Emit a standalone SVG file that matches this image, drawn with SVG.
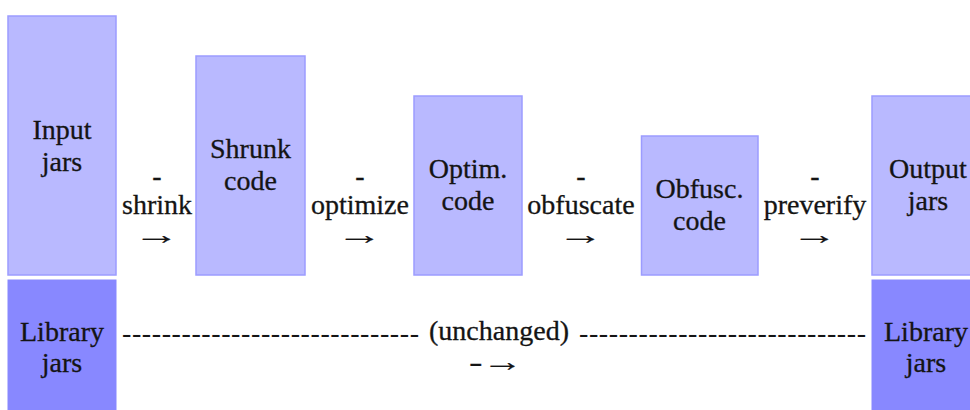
<svg xmlns="http://www.w3.org/2000/svg" width="970" height="410" viewBox="0 0 970 410">
<style>
  text { font-family: 'Liberation Serif', 'Times New Roman', serif; font-size: 28px; fill: #141414; stroke: #141414; stroke-width: 0.3; text-anchor: middle; }
  .box { fill: #b9b9ff; stroke: #9c9cff; stroke-width: 1.5; }
  .lib { fill: #8888ff; stroke: #8888ff; stroke-width: 1; }
  .dash { text-anchor: start; stroke-width: 0; }
  .arrow { stroke-width: 0.2; }
</style>
<rect width="970" height="410" fill="#ffffff"/>
<g id="input-jars">
  <rect class="box" x="8" y="16" width="108" height="259"/>
  <text x="62" y="139">Input</text>
  <text x="62" y="171">jars</text>
</g>
<g id="library-jars-in">
  <rect class="lib" x="8" y="280" width="108" height="135"/>
  <text x="62" y="341">Library</text>
  <text x="62" y="372">jars</text>
</g>
<g id="shrunk-code">
  <rect class="box" x="196" y="56" width="109" height="219"/>
  <text x="250.5" y="158">Shrunk</text>
  <text x="250.5" y="190">code</text>
</g>
<g id="optim-code">
  <rect class="box" x="414" y="96" width="108" height="179"/>
  <text x="468" y="178">Optim.</text>
  <text x="468" y="210">code</text>
</g>
<g id="obfusc-code">
  <rect class="box" x="641.5" y="136" width="116.5" height="139"/>
  <text x="699.5" y="198">Obfusc.</text>
  <text x="699.5" y="230">code</text>
</g>
<g id="output-jars">
  <rect class="box" x="872" y="96" width="120" height="179"/>
  <text x="928" y="178">Output</text>
  <text x="928" y="210">jars</text>
</g>
<g id="library-jars-out">
  <rect class="lib" x="872" y="280" width="120" height="135"/>
  <text x="926" y="341">Library</text>
  <text x="926" y="372">jars</text>
</g>
<g id="connectors">
  <g id="shrink">
    <text x="157" y="185">-</text>
    <text x="157" y="214">shrink</text>
    <text class="arrow" transform="translate(156,244) scale(1.65,1)">→</text>
  </g>
  <g id="optimize">
    <text x="360" y="185">-</text>
    <text x="360" y="214">optimize</text>
    <text class="arrow" transform="translate(359,244) scale(1.65,1)">→</text>
  </g>
  <g id="obfuscate">
    <text x="581" y="185">-</text>
    <text x="581" y="214">obfuscate</text>
    <text class="arrow" transform="translate(580,244) scale(1.65,1)">→</text>
  </g>
  <g id="preverify">
    <text x="815" y="185">-</text>
    <text x="815" y="214">preverify</text>
    <text class="arrow" transform="translate(814,244) scale(1.65,1)">→</text>
  </g>
  <g id="unchanged">
    <text class="dash" x="122" y="342" textLength="297" lengthAdjust="spacing">------------------------------</text>
    <text x="499" y="340">(unchanged)</text>
    <text class="dash" x="579" y="342" textLength="287" lengthAdjust="spacing">-----------------------------</text>
    <text class="arrow" transform="translate(496,371) scale(1.45,1)">-→</text>
  </g>
</g>
</svg>
